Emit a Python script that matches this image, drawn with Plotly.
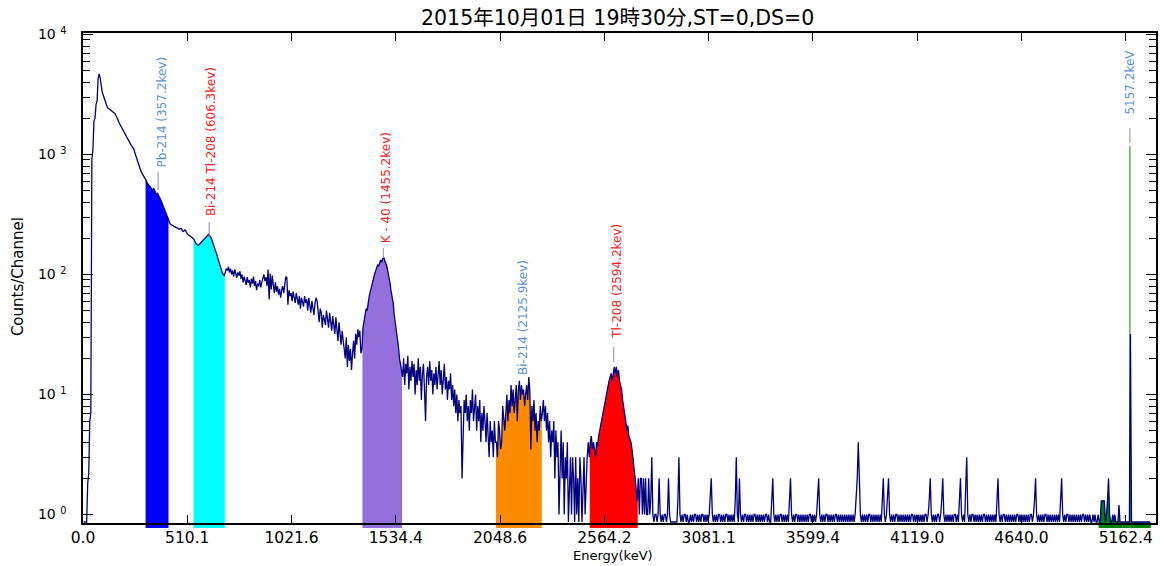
import numpy as np
import plotly.graph_objects as go

# ---------------- data ----------------
title_text = "2015年10月01日 19時30分,ST=0,DS=0"
x_title = "Energy(keV)"
y_title = "Counts/Channel"

n_channels = 1024

# counts per channel, channel 0 .. 1023
counts = [
    # 0
    0, 0, 0, 0, 1.8, 2.2, 6, 7, 900, 1100,
    1900, 2000, 2600, 2800, 4300, 4700, 4300, 3700, 3300, 3100,
    2900, 2800, 2500, 2450, 2420, 2380, 2350, 2330, 2300, 2260,
    2200, 2120, 2050, 1950, 1850, 1780, 1700, 1650, 1600, 1550,
    1500, 1440, 1380, 1320, 1270, 1220, 1180, 1150, 1120, 1050,
    980, 920, 860, 800, 760, 730, 700, 680, 660, 640,
    610, 580, 560, 550, 540, 515, 500, 520, 510, 480,
    470, 475, 460, 440, 420, 400, 380, 360, 340, 320,
    310, 295, 280, 265, 260, 258, 255, 250, 250, 245,
    245, 240, 238, 242, 240, 230, 228, 235, 232, 222,
    # 100
    215, 212, 210, 207, 205, 200, 195, 185, 180, 178,
    175, 178, 182, 188, 192, 196, 200, 204, 208, 212,
    216, 210, 205, 195, 185, 175, 165, 155, 145, 135,
    125, 118, 110, 104, 100, 98, 105, 112, 108, 116,
    104, 112, 100, 108, 96, 110, 102, 94, 104, 98,
    106, 92, 100, 86, 96, 90, 82, 95, 85, 90,
    78, 92, 84, 96, 80, 88, 74, 84, 80, 90,
    78, 86, 92, 100, 88, 95, 80, 110, 62, 102,
    75, 98, 82, 70, 86, 72, 80, 68, 76, 64,
    74, 80, 70, 86, 96, 94, 56, 74, 66, 70,
    # 200
    60, 72, 64, 58, 70, 62, 56, 66, 52, 64,
    60, 54, 66, 58, 62, 50, 64, 56, 48, 60,
    52, 46, 58, 64, 60, 44, 40, 52, 48, 36,
    46, 42, 38, 50, 44, 36, 48, 42, 34, 45,
    38, 32, 44, 36, 28, 40, 30, 26, 34, 28,
    22, 20, 30, 17, 26, 19, 24, 16, 22, 28,
    20, 32, 26, 35, 30, 34, 22, 24, 36, 42,
    48, 52, 50, 60, 66, 72, 80, 88, 92, 100,
    105, 112, 120, 118, 128, 132, 126, 136, 138, 130,
    124, 116, 104, 96, 84, 72, 64, 58, 46, 40,
    # 300
    34, 28, 25, 20, 18, 16, 14, 20, 12, 18,
    15, 21, 11, 17, 13, 19, 14, 18, 10, 16,
    12, 20, 13, 17, 9, 15, 18, 11, 6, 14,
    17, 12, 19, 13, 16, 10, 15, 12, 17, 11,
    14, 19, 12, 16, 10, 13, 18, 11, 14, 9,
    13, 11, 15, 9, 12, 8, 11, 7, 10, 6,
    9, 7, 8, 2, 6, 9, 7, 10, 6, 8,
    5, 9, 7, 11, 6, 8, 10, 5, 8, 6,
    9, 4, 7, 5, 8, 6, 4, 7, 5, 3,
    6, 4, 5, 3, 6, 4, 4, 3, 6, 5,
    # 400
    3.5, 4, 8, 6, 5, 7, 10, 6, 9, 7,
    12, 8, 11, 7, 10, 12, 6, 11, 13, 9,
    12, 10, 11, 8, 10, 12, 9, 14, 11, 3.5,
    8, 6, 9, 5, 7, 4, 6, 5, 8, 6,
    7, 9, 6, 8, 5, 7, 4, 6, 3, 5,
    4, 6, 2, 5, 3, 4, 1, 3, 5, 2,
    4, 1, 3, 2, 4, 0, 2, 3, 1, 3,
    2, 0, 3, 1, 2, 0, 3, 2, 0, 2,
    3, 1, 2, 3, 4, 3, 4, 4.5, 3.5, 4,
    3.5, 3, 4, 3.7, 4.5, 5, 5.8, 6.5, 7, 8,
    # 500
    9, 10, 11, 12, 13, 14, 15, 13, 16, 17,
    15, 17, 14, 16, 13, 12, 11, 9, 8, 7,
    6, 5, 5.5, 4.5, 4.2, 4, 3.5, 3, 2.5, 2,
    1.6, 1.3,
    # 532
    2, 1, 2, 2, 1, 2, 1, 2, 1, 1, 2, 1, 1.3, 3, 1, 0, 1, 1, 0, 1,
    2, 1, 0, 1, 0, 1, 1, 0, 1, 2, 1, 0, 0, 0, 0, 0, 0, 0, 1.3, 3,
    1, 0, 1, 0, 1, 1, 0, 1, 0, 0, 1, 0, 1, 0, 1, 1, 0, 1, 0, 1,
    0, 1, 1, 0, 1, 0, 1, 0, 1, 1.3, 2, 1, 0, 1, 0, 1, 0, 1, 1, 0,
    1, 0, 1, 0, 1, 1, 0, 1, 0, 1, 0, 1, 0, 1.3, 3, 1, 0, 2, 1, 0,
    1, 0, 1, 1, 0, 1, 0, 1, 0, 1, 0, 1, 1, 0, 1, 0, 1, 0, 1, 0,
    1, 0, 1, 1, 0, 1, 0, 0, 1.3, 2, 1, 0, 1, 0, 1, 0, 1, 1, 0, 1,
    0, 1, 0, 1, 0, 1.3, 2, 1, 0, 1, 0, 1, 1, 0, 1, 0, 1, 0, 1, 0,
    1, 0, 1, 0, 1, 1, 0, 1, 0, 1, 0, 1, 1.3, 2, 1, 0, 1, 0, 1, 0,
    1, 1, 0, 1, 0, 1, 0, 1, 0, 1, 1, 0, 1, 0, 1, 0, 1, 0, 1, 0,
    # 732
    1, 0, 1, 0, 1, 0, 1, 0, 1, 1.3, 2, 4, 2, 1, 0, 1, 0, 1, 0, 1,
    0, 1, 1, 0, 1, 0, 1, 0, 1, 0, 1, 0, 1, 0, 1.3, 2, 1, 0, 1, 1.3,
    2, 1, 0, 1, 0, 1, 0, 1, 1, 0, 1, 0, 1, 0, 1, 0, 1, 0, 1, 0,
    1, 0, 1, 1, 0, 1, 0, 1, 0, 1, 0, 1, 0, 1, 0, 1, 1, 0, 1, 1.3,
    2, 1, 0, 1, 0, 1, 0, 1, 1, 0, 1, 1.3, 2, 1, 0, 1, 0, 1, 0, 1,
    0, 1, 0, 1, 1, 0, 1, 0, 1.3, 2, 1, 0, 1, 0, 1.7, 3, 1, 0, 1, 0,
    1, 1, 0, 1, 0, 1, 0, 1, 0, 1, 0, 1, 1, 0, 1, 0, 1, 0, 1, 0,
    1, 0, 1, 0, 1.3, 2, 1, 0, 1, 0, 1, 1, 0, 1, 0, 1, 0, 1, 0, 1,
    0, 1, 0, 1, 1, 0, 1, 0, 1, 0, 1, 0, 1, 0, 1, 0, 1, 1, 0, 1,
    1.3, 2, 1, 0, 1, 0, 1, 0, 1, 0, 1, 1, 0, 1, 0, 1, 0, 1, 0, 1,
    # 932
    0, 1, 0, 1, 0, 1.3, 2, 1, 0, 1, 0, 1, 1, 0, 1, 0, 1, 0, 1, 0,
    1, 0, 1, 0, 1, 0, 1, 1, 0, 1, 0, 1, 0, 1, 0, 0, 1, 0, 1, 0,
    0, 1, 0, 0, 1.3, 1.3, 1.3, 1.3, 0, 1, 1.3, 2, 1, 0, 0, 1, 0, 1, 0, 0,
    0, 1.2, 0, 0, 0, 0, 0, 0, 0, 0, 0, 0, 32, 0, 0, 0, 0, 0, 0, 0,
    0, 0, 0, 0, 0, 0, 0, 0, 0, 0, 0, 0,
]
assert len(counts) == n_channels, len(counts)

tick_channels = [0, 100, 200, 300, 400, 500, 600, 700, 800, 900, 1000]
tick_energies = ["0.0", "510.1", "1021.6", "1534.4", "2048.6", "2564.2",
                 "3081.1", "3599.4", "4119.0", "4640.0", "5162.4"]

y_tick_values = [1, 10, 100, 1000, 10000]
y_tick_labels = ["10 <sup>0</sup>", "10 <sup>1</sup>", "10 <sup>2</sup>",
                 "10 <sup>3</sup>", "10 <sup>4</sup>"]

# regions of interest (channel ranges) and their fill colours
roi_start = [60, 106, 268, 396, 486, 974]
roi_end = [82, 136, 306, 440, 532, 1024]
roi_colors = ["#0000ff", "#00ffff", "#9370db", "#ff8c00", "#ff0000", "#008000"]

# reference (calibration) peak drawn in green
ref_peak_channel = 1004
ref_peak_counts = 1180

# peak labels
peak_labels = ["Pb-214 (357.2kev)", "Bi-214 Tl-208 (606.3kev)", "K - 40 (1455.2kev)",
               "Bi-214 (2125.9kev)", "Tl-208 (2594.2kev)", " 5157.2keV"]
peak_channels = [72, 121, 288, 421, 509, 1004]
peak_colors = ["#5b93d3", "#ff2020", "#ff2020", "#5b93d3", "#ff2020", "#5b93d3"]
# marker tick (low, high counts) under each label, None = no marker
marker_low = [506, 205, 137, None, 18.6, 1247]
marker_high = [714, 274, 166, None, 24.9, 1660]
label_bottom = [743, 296, 176, 14.0, 27.9, 1939]
label_xshift = [4, 2.5, 2.5, 1.5, 2.5, 1]

# ---------------- figure ----------------
W, H = 1164, 566
left_px, right_px, top_px, bottom_px = 83, 1158, 33, 528
axis_bottom_px = 523
decade_px = 120.0
one_px = 514.5   # pixel row of 10^0

plot_h = bottom_px - top_px
y_range_traces = [-(bottom_px - one_px) / decade_px, (one_px - top_px) / decade_px]
y_range_frame = [-(axis_bottom_px - one_px) / decade_px, (one_px - top_px) / decade_px]

zero_level = 10 ** (-(522 - one_px) / decade_px)   # where empty channels are drawn
fill_floor = 0.5

vals = np.array(counts, dtype=float)
disp = np.where(vals > 0, vals, zero_level)
centers = np.arange(n_channels) + 0.5

fig = go.Figure()

# ROI fills
for s, e, c in zip(roi_start, roi_end, roi_colors):
    xs = [float(s)] + [float(v) for v in centers[s:e]] + [float(e), float(e), float(s)]
    ys = ([float(disp[s])] + [float(v) for v in disp[s:e]]
          + [float(disp[e - 1]), fill_floor, fill_floor])
    fig.add_trace(go.Scatter(x=xs, y=ys, mode="lines", fill="toself",
                             fillcolor=c, line=dict(width=0, color=c),
                             showlegend=False, hoverinfo="skip"))

# green reference peak line
fig.add_trace(go.Scatter(x=[ref_peak_channel, ref_peak_channel],
                         y=[fill_floor, ref_peak_counts], mode="lines",
                         line=dict(color="#2e9e2e", width=1.2),
                         showlegend=False, hoverinfo="skip"))

# spectrum
fig.add_trace(go.Scatter(x=[float(v) for v in centers],
                         y=[float(v) for v in disp], mode="lines",
                         line=dict(color="#000080", width=1.3),
                         showlegend=False, hoverinfo="skip"))

# marker ticks
for ch, lo, hi in zip(peak_channels, marker_low, marker_high):
    if lo is None:
        continue
    fig.add_trace(go.Scatter(x=[ch, ch], y=[lo, hi], mode="lines",
                             line=dict(color="#8585d8", width=1),
                             showlegend=False, hoverinfo="skip"))

# dummy trace for the frame axes
fig.add_trace(go.Scatter(x=[None], y=[None], yaxis="y2", showlegend=False,
                         hoverinfo="skip"))

annotations = []
for txt, ch, col, yb, dx in zip(peak_labels, peak_channels, peak_colors,
                                label_bottom, label_xshift):
    annotations.append(dict(x=ch, y=float(np.log10(yb)), xref="x", yref="y", text=txt,
                            textangle=-90, showarrow=False, xanchor="center",
                            yanchor="bottom", xshift=dx,
                            font=dict(family="DejaVu Sans", size=12, color=col)))

pw = right_px - left_px
annotations.append(dict(x=(618.5 - left_px) / pw, y=1 + (top_px - 18) / plot_h,
                        xref="paper", yref="paper", text=title_text, showarrow=False,
                        xanchor="center", yanchor="middle",
                        font=dict(family="DejaVu Sans, Noto Sans CJK JP", size=20.5,
                                  color="black")))
annotations.append(dict(x=(614 - left_px) / pw, y=(bottom_px - 555) / plot_h,
                        xref="paper", yref="paper", text=x_title, showarrow=False,
                        xanchor="center", yanchor="middle",
                        font=dict(family="DejaVu Sans", size=13, color="black")))
annotations.append(dict(x=(18 - left_px) / pw, y=(bottom_px - 277) / plot_h,
                        xref="paper", yref="paper", text=y_title, showarrow=False,
                        textangle=-90, xanchor="center", yanchor="middle",
                        font=dict(family="DejaVu Sans", size=15, color="black")))

minor_vals = [m * 10 ** k for k in range(0, 4) for m in range(2, 10)]

fig.update_layout(
    width=W, height=H,
    margin=dict(l=left_px, r=W - right_px, t=top_px, b=H - bottom_px, pad=0),
    paper_bgcolor="white", plot_bgcolor="rgba(0,0,0,0)",
    showlegend=False,
    annotations=annotations,
    xaxis=dict(range=[0, 1029], domain=[0, 1], anchor="y2",
               showline=True, linecolor="black", linewidth=1.6, mirror="ticks",
               ticks="inside", ticklen=8, tickcolor="black", tickwidth=1.3,
               tickmode="array", tickvals=tick_channels, ticktext=tick_energies,
               tickfont=dict(family="DejaVu Sans", size=15.5, color="black"),
               showgrid=False, zeroline=False),
    yaxis=dict(type="log", range=y_range_traces, domain=[0, 1], anchor="x",
               visible=False, showgrid=False, zeroline=False),
    yaxis2=dict(type="log", range=y_range_frame,
                domain=[(bottom_px - axis_bottom_px) / plot_h, 1], anchor="x",
                showline=True, linecolor="black", linewidth=1.6, mirror="ticks",
                ticks="inside", ticklen=10, tickcolor="black", tickwidth=1.3,
                tickmode="array", tickvals=y_tick_values, ticktext=y_tick_labels,
                ticklabelstandoff=12,
                tickfont=dict(family="DejaVu Sans", size=14, color="black"),
                minor=dict(ticks="inside", ticklen=7, tickcolor="black",
                           tickwidth=1.2, tickmode="array", tickvals=minor_vals),
                showgrid=False, zeroline=False),
)

fig.write_html("out.html", config={"displayModeBar": False},
               post_script="document.body.style.margin='0px';"
                           "document.body.style.overflow='hidden';")
